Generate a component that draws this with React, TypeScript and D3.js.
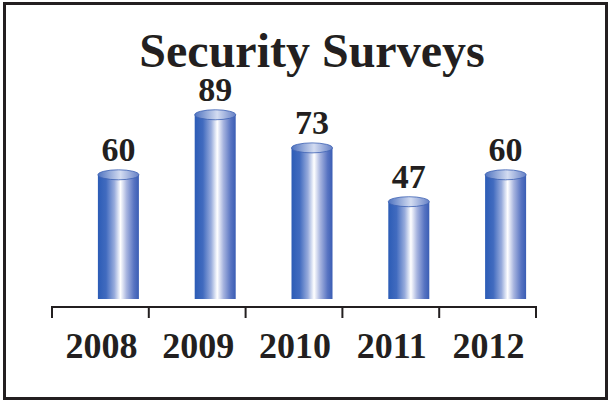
import React from 'react';
import * as d3 from 'd3';

const categories = ['2008', '2009', '2010', '2011', '2012'];
const values = [60, 89, 73, 47, 60];
const title = 'Security Surveys';

const W = 610;
const H = 402;

export default function App() {
  const x = d3.scaleBand<string>().domain(categories).range([52, 536]).padding(0);
  const y = d3.scaleLinear().domain([0, 100]).range([299, 92]);
  const bw = x.bandwidth();
  const barW = 41;
  const barOffset = 18;
  const ry = 5;
  const ink = '#231f20';
  const font = "'Liberation Serif', 'Times New Roman', serif";
  const ticks = [...categories.map((c) => x(c) as number), 536];

  return (
    <svg width={W} height={H} style={{ position: 'absolute', left: 0, top: 0, background: '#fff' }}>
      <defs>
        <linearGradient id="body" x1="0" x2="1" y1="0" y2="0">
          <stop offset="0" stopColor="#2c5cb6" />
          <stop offset="0.2" stopColor="#416bbf" />
          <stop offset="0.4" stopColor="#97abdc" />
          <stop offset="0.55" stopColor="#ffffff" />
          <stop offset="0.7" stopColor="#a7b4df" />
          <stop offset="0.88" stopColor="#5874c2" />
          <stop offset="1" stopColor="#3a5db4" />
        </linearGradient>
        <linearGradient id="cap" x1="0" x2="1" y1="0" y2="0">
          <stop offset="0" stopColor="#4f73c0" />
          <stop offset="0.55" stopColor="#d3dcf1" />
          <stop offset="1" stopColor="#6580c6" />
        </linearGradient>
      </defs>
      <rect x={4.5} y={3.5} width={602} height={395} fill="#fff" stroke={ink} strokeWidth={3} />
      <text x={312} y={67} textAnchor="middle" fontFamily={font} fontWeight="bold" fontSize={48} fill={ink}>
        {title}
      </text>
      {categories.map((c, i) => {
        const cx = (x(c) as number) + bw / 2 + barOffset;
        const top = y(values[i]);
        const base = y(0);
        return (
          <g key={c}>
            <rect x={cx - barW / 2} y={top} width={barW} height={base - top} fill="url(#body)" />
            <ellipse cx={cx} cy={top} rx={barW / 2} ry={ry} fill="url(#cap)" stroke="#3e62b4" strokeWidth={0.8} />
            <text x={cx} y={top - 14} textAnchor="middle" fontFamily={font} fontWeight="bold" fontSize={34} fill={ink}>
              {values[i]}
            </text>
            <text x={(x(c) as number) + bw / 2 + 1} y={358} textAnchor="middle" fontFamily={font} fontWeight="bold" fontSize={36} fill={ink}>
              {c}
            </text>
          </g>
        );
      })}
      <line x1={52} x2={536} y1={307} y2={307} stroke={ink} strokeWidth={2} />
      {ticks.map((t, i) => (
        <line key={i} x1={t} x2={t} y1={306} y2={318} stroke={ink} strokeWidth={2} />
      ))}
    </svg>
  );
}
